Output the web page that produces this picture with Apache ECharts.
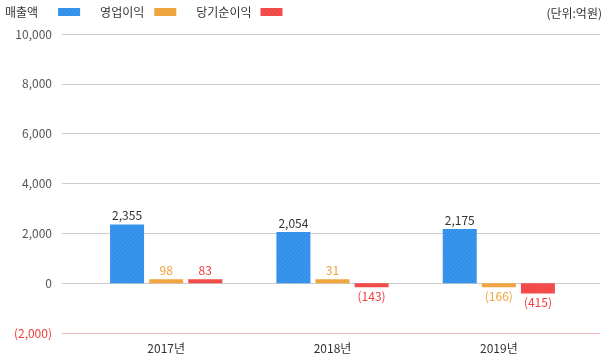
<!DOCTYPE html>
<html>
<head>
<meta charset="utf-8">
<script src="https://cdn.jsdelivr.net/npm/echarts@6/dist/echarts.min.js"></script>
<style>
html, body { margin: 0; padding: 0; background: #fff; }
#chart { width: 615px; height: 354px; }
</style>
</head>
<body>
<div id="chart"></div>
<script>
// 데이터 (단위: 억원)
var years = ['2017년', '2018년', '2019년'];
var seriesNames = ['매출액', '영업이익', '당기순이익'];
var sales = [2355, 2054, 2175];
var opProfit = [98, 31, -166];
var netProfit = [83, -143, -415];
var yTicks = [-2000, 0, 2000, 4000, 6000, 8000, 10000];

var colors = ['#2f8fea', '#f0a23a', '#f24644'];
var labelColors = ['#333', '#f0a23a', '#f03c3c'];
var legendPadRight = [15, 5, 4];

function fmt(v) {
    var s = Math.abs(v).toString().replace(/\B(?=(\d{3})+(?!\d))/g, ',');
    return v < 0 ? '(' + s + ')' : s;
}

// 음수는 막대 아래에 라벨
function buildData(arr) {
    var out = [];
    for (var i = 0; i < arr.length; i++) {
        out.push({
            value: arr[i],
            label: { position: arr[i] < 0 ? 'bottom' : 'top' }
        });
    }
    return out;
}

var decal = {
    symbol: 'rect',
    symbolSize: 1,
    dashArrayX: [1, 0],
    dashArrayY: [1, 2],
    rotation: -Math.PI / 4,
    color: 'rgba(255,255,255,0.09)'
};

function makeSeries(idx, arr) {
    return {
        name: seriesNames[idx],
        type: 'bar',
        xAxisIndex: 1,
        yAxisIndex: 1,
        barWidth: 34,
        barGap: '15%',
        barMinHeight: 4,
        itemStyle: { color: colors[idx], decal: decal },
        label: {
            show: true,
            distance: 3,
            color: labelColors[idx],
            fontSize: 12,
            formatter: function (p) { return fmt(p.value); }
        },
        data: buildData(arr)
    };
}

var legendData = [];
for (var k = 0; k < seriesNames.length; k++) {
    legendData.push({
        name: seriesNames[k],
        textStyle: { padding: [0, legendPadRight[k], 0, 0] }
    });
}

var splitColors = [];
for (var i = 0; i < yTicks.length; i++) {
    splitColors.push(yTicks[i] < 0 ? '#f2b6b6' : '#cccccc');
}

var myChart = echarts.init(document.getElementById('chart'));
var options = {
    backgroundColor: '#fff',
    textStyle: { fontFamily: '"Noto Sans CJK KR", "Noto Sans", sans-serif' },
    animation: false,
    title: {
        text: '(단위:억원)',
        right: 8,
        top: 2,
        textStyle: { fontSize: 12, fontWeight: 'normal', color: '#333' }
    },
    legend: {
        left: 0,
        top: 1,
        align: 'right',
        icon: 'rect',
        itemWidth: 22,
        itemHeight: 8,
        itemGap: 20,
        textStyle: { fontSize: 12, color: '#333' },
        data: legendData
    },
    grid: [
        { left: 62, right: 15, top: 34, bottom: 21 },
        { left: 83, right: 33, top: 34, bottom: 21 }
    ],
    xAxis: [
        { type: 'category', gridIndex: 0, show: false, data: years },
        {
            type: 'category',
            gridIndex: 1,
            data: years,
            axisLine: { show: false },
            axisTick: { show: false },
            axisLabel: { color: '#333', fontSize: 12, margin: 9 }
        }
    ],
    yAxis: [
        {
            type: 'value',
            gridIndex: 0,
            min: -2000,
            max: 10000,
            interval: 2000,
            axisLine: { show: false },
            axisTick: { show: false },
            axisLabel: {
                fontSize: 12,
                margin: 10,
                formatter: fmt,
                color: function (v) { return v < 0 ? '#f03c3c' : '#555'; }
            },
            splitLine: { lineStyle: { color: splitColors, width: 1 } }
        },
        {
            type: 'value',
            gridIndex: 1,
            min: -2000,
            max: 10000,
            interval: 2000,
            show: false,
            splitLine: { show: false }
        }
    ],
    series: [
        makeSeries(0, sales),
        makeSeries(1, opProfit),
        makeSeries(2, netProfit)
    ]
};
myChart.setOption(options);
</script>
</body>
</html>
